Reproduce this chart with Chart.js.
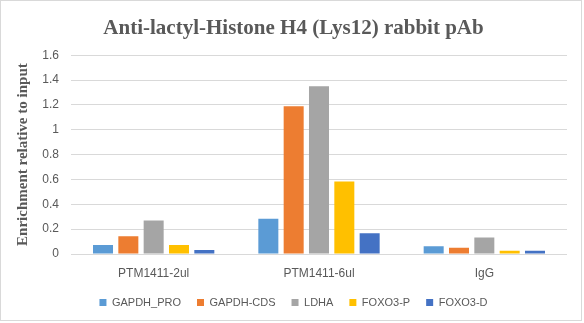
<!DOCTYPE html>
<html>
<head>
<meta charset="utf-8">
<title>Anti-lactyl-Histone H4 (Lys12) rabbit pAb</title>
<script src="https://cdn.jsdelivr.net/npm/chart.js@4/dist/chart.umd.min.js"></script>
<style>
  html, body { margin: 0; padding: 0; background: #fff; }
  #wrap { position: relative; width: 584px; height: 323px; }
</style>
</head>
<body>
<div id="wrap"><canvas id="chipChart"></canvas></div>
<script>
// chart data
const samples = ["PTM1411-2ul", "PTM1411-6ul", "IgG"];
const seriesNames = ["GAPDH_PRO", "GAPDH-CDS", "LDHA", "FOXO3-P", "FOXO3-D"];
const gapdhPro = [0.073, 0.283, 0.062];
const gapdhCds = [0.142, 1.19, 0.051];
const ldha = [0.27, 1.35, 0.132];
const foxo3P = [0.073, 0.584, 0.027];
const foxo3D = [0.032, 0.167, 0.027];
const yTicks = [0, 0.2, 0.4, 0.6, 0.8, 1, 1.2, 1.4, 1.6];

const seriesColors = ["#5B9BD5", "#ED7D31", "#A5A5A5", "#FFC000", "#4472C4"];
const textGray = "#595959";

// light gray frame like the Excel chart area
const framePlugin = {
  id: "frame",
  afterDraw(chart) {
    const ctx = chart.ctx;
    ctx.save();
    ctx.strokeStyle = "#d9d9d9";
    ctx.lineWidth = 1;
    ctx.strokeRect(0.5, 0.5, 581, 320);
    ctx.restore();
  }
};

const allValues = [gapdhPro, gapdhCds, ldha, foxo3P, foxo3D];

new Chart(document.getElementById("chipChart"), {
  type: "bar",
  data: {
    labels: samples,
    datasets: seriesNames.map((name, i) => ({
      label: name,
      data: allValues[i],
      backgroundColor: seriesColors[i],
      borderWidth: 0,
      categoryPercentage: 0.766,
      barPercentage: 0.79
    }))
  },
  options: {
    responsive: true,
    maintainAspectRatio: false,
    animation: false,
    layout: { padding: { left: 10, right: 7, top: 0, bottom: 5 } },
    plugins: {
      title: {
        display: true,
        text: "Anti-lactyl-Histone H4 (Lys12) rabbit pAb",
        color: textGray,
        font: { family: "'Liberation Serif', 'Times New Roman', serif", size: 21, weight: "bold" },
        padding: { top: 16, bottom: 14 }
      },
      legend: {
        position: "bottom",
        labels: {
          color: textGray,
          boxWidth: 7,
          boxHeight: 7,
          padding: 16,
          font: { family: "'Liberation Sans', Arial, sans-serif", size: 11 }
        }
      },
      tooltip: { enabled: false }
    },
    scales: {
      x: {
        grid: { display: false, drawTicks: false },
        border: { display: false },
        ticks: {
          color: textGray,
          padding: 12,
          font: { family: "'Liberation Sans', Arial, sans-serif", size: 12 }
        },
        afterFit(scale) { scale.height = 27; }
      },
      y: {
        min: 0,
        max: 1.6,
        afterBuildTicks(scale) {
          scale.ticks = yTicks.map(v => ({ value: v }));
        },
        grid: { color: "#d9d9d9", drawTicks: false },
        border: { display: false },
        ticks: {
          color: textGray,
          padding: 12,
          font: { family: "'Liberation Sans', Arial, sans-serif", size: 12 },
          callback: (v) => String(v)
        },
        title: {
          display: true,
          text: "Enrichment relative to input",
          color: textGray,
          font: { family: "'Liberation Serif', 'Times New Roman', serif", size: 15, weight: "bold" },
          padding: { top: 4, bottom: 0 }
        },
        afterFit(scale) { scale.width = 61; }
      },
      // empty axis that only keeps room on the right of the plot
      spacer: {
        axis: "y",
        position: "right",
        display: true,
        grid: { display: false },
        border: { display: false },
        ticks: { display: false },
        afterFit(scale) { scale.width = 10; }
      }
    }
  },
  plugins: [framePlugin]
});
</script>
</body>
</html>
